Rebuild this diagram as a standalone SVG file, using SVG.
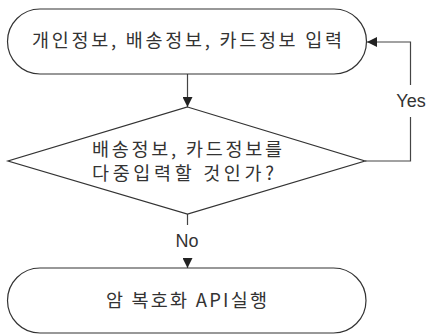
<svg xmlns="http://www.w3.org/2000/svg" width="426" height="334" viewBox="0 0 426 334">
  <style>
    .shape { fill: #ffffff; stroke: #333333; stroke-width: 1.2; }
    .edge { fill: none; stroke: #444444; stroke-width: 1.2; }
    .t { font-family: "Noto Sans CJK KR", "Noto Sans", sans-serif; font-size: 18.5px; fill: #333333; text-anchor: middle; }
    .lbl { font-family: "Liberation Sans", Arial, sans-serif; font-size: 18px; fill: #333333; text-anchor: middle; }
  </style>
  <defs>
    <marker id="arr" viewBox="0 0 10 10" refX="10" refY="5" markerWidth="10" markerHeight="10" markerUnits="userSpaceOnUse" orient="auto">
      <path d="M0,0 L10,5 L0,10 Z" fill="#222222"/>
    </marker>
  </defs>
  <rect width="426" height="334" fill="#ffffff"/>
  <g id="connectors">
    <line class="edge" x1="187.5" y1="74" x2="187.5" y2="107" marker-end="url(#arr)"/>
    <path class="edge" d="M187.5,214 V225"/>
    <path class="edge" d="M187.5,258 V268" marker-end="url(#arr)"/>
    <path class="edge" d="M365,161 H410.5 V117"/>
    <path class="edge" d="M410.5,85 V42 H367" marker-end="url(#arr)"/>
    <text class="lbl" x="187" y="247">No</text>
    <text class="lbl" x="411" y="107">Yes</text>
  </g>
  <g id="start">
    <rect class="shape" x="7.5" y="9" width="359" height="65" rx="32.5" ry="32.5"/>
    <text class="t" x="187" y="47" textLength="310" lengthAdjust="spacing">개인정보, 배송정보, 카드정보 입력</text>
  </g>
  <g id="decision">
    <polygon class="shape" points="187.5,107 365,161 187.5,214 8,161"/>
    <text class="t" x="187" y="156" textLength="190" lengthAdjust="spacing">배송정보, 카드정보를</text>
    <text class="t" x="183" y="180" textLength="182" lengthAdjust="spacing">다중입력할 것인가?</text>
  </g>
  <g id="end">
    <rect class="shape" x="7.5" y="268" width="358.5" height="65" rx="32.5" ry="32.5"/>
    <text class="t" x="186.5" y="307" textLength="161" lengthAdjust="spacing">암 복호화 API실행</text>
  </g>
</svg>
